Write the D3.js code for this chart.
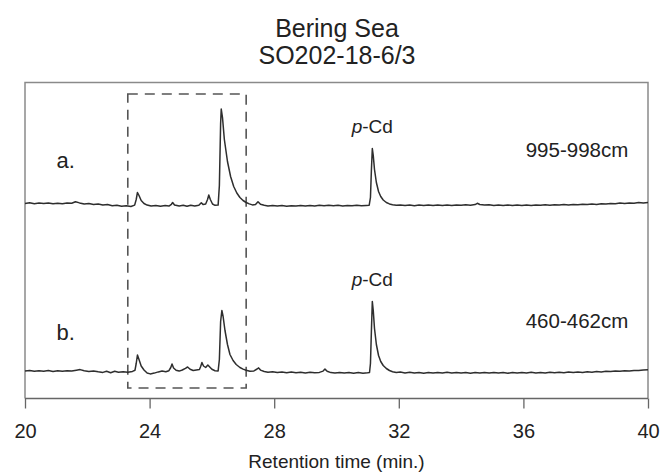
<!DOCTYPE html>
<html>
<head>
<meta charset="utf-8">
<script src="https://cdn.jsdelivr.net/npm/d3@7"></script>
<style>
  body { margin: 0; background: #fff; }
  svg { display: block; font-family: "Liberation Sans", Arial, sans-serif; }
</style>
</head>
<body>
<svg width="662" height="473"></svg>
<script>
// title lines
const titleLines = ["Bering Sea", "SO202-18-6/3"];

// x axis
const xDomain = [20, 40];
const majorTicks = [20, 24, 28, 32, 36, 40];
const minorTicks = [22, 26, 30, 34, 38];
const xLabel = "Retention time (min.)";

// samples (label, depth, baseline offset of the trace)
const sampleNames = ["a.", "b."];
const sampleDepths = ["995-998cm", "460-462cm"];
const sampleOffsets = [193, 27];

// p-Cd peak
const pCdTime = 31.15;
const pCdLabel = "p-Cd";

// dashed box around the 23.3 - 27.1 min window
const boxTimes = [23.3, 27.1];
const boxSignal = [10.5, 304.5];

// chromatogram a (995-998cm): [time, signal above baseline]
const traceA = [
  [20.0, 2.0], [20.15, 2.7], [20.3, 1.8], [20.45, 2.4], [20.6, 1.9], [20.75, 2.6],
  [20.9, 1.7], [21.05, 2.3], [21.2, 1.8], [21.35, 2.6], [21.5, 2.3], [21.62, 3.8],
  [21.75, 2.6], [21.9, 1.6], [22.05, 1.9], [22.2, 1.0], [22.35, 1.4], [22.5, 0.4],
  [22.65, 0.9], [22.8, -0.3], [22.95, 0.2], [23.1, -0.8], [23.25, -0.2], [23.4, -1.0],
  [23.52, 0.4], [23.57, 6], [23.61, 13], [23.66, 10], [23.73, 5], [23.82, 2],
  [23.92, 0.4], [24.05, -0.6], [24.2, 0.1], [24.35, -0.7], [24.5, -0.1], [24.62, -0.6],
  [24.7, 1.2], [24.74, 3], [24.8, 0.5], [24.95, -0.5], [25.08, 0.2], [25.2, -0.8],
  [25.32, 0.3], [25.45, -0.6], [25.58, 0.2], [25.66, 2.8], [25.72, 0.9], [25.8, 1.5],
  [25.86, 6], [25.9, 10.5], [25.95, 6], [26.02, 1.5], [26.1, 0.2], [26.2, 0.4],
  [26.24, 20], [26.28, 82], [26.3, 96.5], [26.34, 88], [26.4, 66], [26.5, 44],
  [26.6, 29], [26.7, 19], [26.8, 12.5], [26.9, 8], [27.0, 5], [27.1, 3],
  [27.2, 1.6], [27.3, 0.6], [27.4, 1.0], [27.48, 3.8], [27.56, 1.2], [27.68, 0.2],
  [27.8, -0.5], [27.95, 0.1], [28.1, -0.6], [28.25, -0.1], [28.4, -0.7], [28.55, -0.2],
  [28.7, -0.6], [28.85, 0.0], [29.0, -0.5], [29.15, 0.1], [29.3, -0.4], [29.45, 0.2],
  [29.6, -0.3], [29.75, 0.3], [29.9, -0.2], [30.05, 0.2], [30.2, -0.4], [30.35, 0.1],
  [30.5, -0.3], [30.65, 0.2], [30.8, -0.3], [30.95, 0.1], [31.05, 0.3], [31.09, 8],
  [31.12, 35], [31.15, 57], [31.18, 50], [31.22, 36], [31.28, 23], [31.35, 14],
  [31.42, 9], [31.5, 5.5], [31.6, 3], [31.7, 1.6], [31.8, 0.8], [31.92, 0.2],
  [32.05, 0.6], [32.2, -0.1], [32.35, 0.5], [32.5, -0.2], [32.65, 0.4], [32.8, -0.1],
  [32.95, 0.5], [33.1, 0.0], [33.25, 0.6], [33.4, 0.1], [33.55, 0.5], [33.7, -0.1],
  [33.85, 0.6], [34.0, 0.2], [34.15, 0.7], [34.3, 0.3], [34.45, 0.9], [34.52, 2.2],
  [34.6, 1.0], [34.75, 0.4], [34.9, 0.8], [35.05, 0.1], [35.2, 0.6], [35.35, 0.0],
  [35.5, 0.5], [35.65, -0.1], [35.8, 0.4], [35.95, 0.0], [36.1, 0.5], [36.25, 0.1],
  [36.4, 0.6], [36.55, 0.2], [36.7, 0.7], [36.85, 0.3], [37.0, 0.8], [37.15, 0.4],
  [37.3, 0.9], [37.45, 0.5], [37.6, 1.1], [37.75, 0.7], [37.9, 1.3], [38.05, 0.9],
  [38.2, 1.5], [38.35, 1.1], [38.5, 1.8], [38.65, 1.4], [38.8, 2.1], [38.95, 1.7],
  [39.1, 2.4], [39.25, 1.9], [39.4, 2.6], [39.55, 2.2], [39.7, 2.9], [39.85, 2.5],
  [40.0, 3.0]
];

// chromatogram b (460-462cm)
const traceB = [
  [20.0, 0.4], [20.15, 1.0], [20.3, 0.2], [20.45, 0.8], [20.6, 0.3], [20.75, 0.9],
  [20.9, 0.1], [21.05, 0.7], [21.2, 0.2], [21.35, 0.8], [21.5, 0.4], [21.65, 1.2],
  [21.77, 1.9], [21.9, 0.8], [22.05, 0.1], [22.2, 0.6], [22.35, -0.3], [22.5, -0.9],
  [22.62, 0.3], [22.75, -1.2], [22.88, 0.2], [23.0, -0.8], [23.15, -0.2], [23.3, -0.7],
  [23.45, 0.1], [23.53, 1.2], [23.57, 8], [23.61, 16.5], [23.66, 12], [23.73, 5.5],
  [23.82, 1.5], [23.92, -1.5], [24.02, -2.4], [24.15, -1.6], [24.28, -0.4], [24.4, 0.4],
  [24.52, -0.2], [24.62, 0.8], [24.68, 4], [24.72, 7.5], [24.77, 3.5], [24.85, 1.2],
  [24.95, 0.4], [25.05, 1.5], [25.15, 3.2], [25.22, 4.5], [25.3, 2.2], [25.4, 1.0],
  [25.5, 1.6], [25.6, 2.0], [25.64, 5], [25.68, 9], [25.73, 5.5], [25.8, 4],
  [25.87, 6.5], [25.93, 4.5], [26.0, 2.2], [26.1, 0.8], [26.2, 0.6], [26.24, 12],
  [26.28, 50], [26.32, 61], [26.36, 55], [26.42, 41], [26.5, 27], [26.58, 17],
  [26.68, 11], [26.78, 7], [26.9, 4], [27.0, 2.4], [27.1, 1.2], [27.22, 0.3],
  [27.35, 0.6], [27.45, 2.5], [27.5, 3.6], [27.56, 1.4], [27.68, 0.0], [27.8, -0.8],
  [27.95, -0.2], [28.1, -1.0], [28.25, -0.4], [28.4, -1.2], [28.55, -0.6], [28.7, -1.3],
  [28.85, -0.7], [29.0, -1.4], [29.15, -0.8], [29.3, -1.3], [29.45, -0.9], [29.57, 0.4],
  [29.63, 2.4], [29.7, 0.2], [29.82, -1.1], [29.95, -1.5], [30.1, -0.9], [30.25, -1.6],
  [30.4, -1.0], [30.55, -1.7], [30.7, -1.1], [30.85, -1.8], [31.0, -1.3], [31.06, -1.0],
  [31.09, 8], [31.12, 40], [31.15, 70], [31.18, 61], [31.22, 43], [31.28, 27],
  [31.35, 16], [31.42, 10], [31.5, 6], [31.6, 3], [31.7, 1.0], [31.8, -0.2],
  [31.92, -1.0], [32.05, -0.6], [32.2, -1.4], [32.35, -0.8], [32.5, -1.6], [32.65, -1.0],
  [32.8, -1.7], [32.95, -1.1], [33.1, -1.6], [33.25, -0.9], [33.4, -1.5], [33.55, -0.8],
  [33.7, -1.4], [33.85, -0.9], [34.0, -1.6], [34.15, -1.0], [34.3, -1.7], [34.45, -1.1],
  [34.6, -1.6], [34.75, -1.0], [34.9, -1.5], [35.05, -0.9], [35.2, -1.6], [35.35, -1.1],
  [35.5, -1.7], [35.65, -1.0], [35.8, -1.5], [35.95, -0.9], [36.1, -1.4], [36.25, -0.8],
  [36.4, -1.5], [36.55, -0.9], [36.7, -1.4], [36.85, -0.8], [37.0, -1.3], [37.15, -0.7],
  [37.3, -1.2], [37.45, -0.6], [37.6, -1.1], [37.75, -0.5], [37.9, -0.9], [38.05, -0.3],
  [38.2, -0.7], [38.35, -0.1], [38.5, -0.4], [38.65, 0.2], [38.8, -0.1], [38.95, 0.5],
  [39.1, 0.2], [39.25, 0.8], [39.4, 0.5], [39.55, 1.1], [39.7, 0.9], [39.85, 1.6],
  [40.0, 1.8]
];

const traces = [traceA, traceB];

var svg = d3.select("svg");

const plot = { left: 25, right: 648, top: 82.5, bottom: 398.5 };
const textColor = "#222";

const x = d3.scaleLinear().domain(xDomain).range([plot.left, plot.right]);
const y = d3.scaleLinear().domain([0, 316]).range([plot.bottom, plot.top]);

// title
svg.selectAll("text.title")
  .data(titleLines)
  .enter()
  .append("text")
  .attr("class", "title")
  .attr("x", 337)
  .attr("y", (d, i) => 36.5 + i * 27.5)
  .attr("text-anchor", "middle")
  .attr("fill", textColor)
  .style("font-size", "25px")
  .text((d) => d);

// frame (top, left, right)
svg.append("path")
  .attr("d", `M${plot.left},${plot.bottom} V${plot.top} H${plot.right} V${plot.bottom}`)
  .attr("fill", "none")
  .attr("stroke", "#8a8a8a")
  .attr("stroke-width", 1.5);

// dashed highlight box
svg.append("rect")
  .attr("x", x(boxTimes[0]))
  .attr("y", y(boxSignal[1]))
  .attr("width", x(boxTimes[1]) - x(boxTimes[0]))
  .attr("height", y(boxSignal[0]) - y(boxSignal[1]))
  .attr("fill", "none")
  .attr("stroke", "#555")
  .attr("stroke-width", 1.6)
  .attr("stroke-dasharray", "10,7");

// traces
const line = d3.line()
  .x((d) => x(d[0]))
  .y((d) => d[1]);

traces.forEach((trace, i) => {
  svg.append("path")
    .datum(trace.map((d) => [d[0], y(sampleOffsets[i] + d[1])]))
    .attr("class", "trace")
    .attr("d", line)
    .attr("fill", "none")
    .attr("stroke", "#2e2e2e")
    .attr("stroke-width", 1.5)
    .attr("stroke-linejoin", "round");
});

// sample labels
svg.selectAll("text.sampleName")
  .data(sampleNames)
  .enter()
  .append("text")
  .attr("class", "sampleName")
  .attr("x", 56.5)
  .attr("y", (d, i) => y(sampleOffsets[i]) - (i == 0 ? 37.5 : 31.5))
  .attr("fill", textColor)
  .style("font-size", "22px")
  .text((d) => d);

svg.selectAll("text.depth")
  .data(sampleDepths)
  .enter()
  .append("text")
  .attr("class", "depth")
  .attr("x", 577)
  .attr("y", (d, i) => y(sampleOffsets[i]) - (i == 0 ? 49 : 43.5))
  .attr("text-anchor", "middle")
  .attr("fill", textColor)
  .style("font-size", "20.5px")
  .text((d) => d);

// p-Cd labels above each peak
traces.forEach((trace, i) => {
  const peak = d3.max(trace.filter((d) => Math.abs(d[0] - pCdTime) < 0.2), (d) => d[1]);
  const t = svg.append("text")
    .attr("x", x(pCdTime))
    .attr("y", y(sampleOffsets[i] + peak) - 16)
    .attr("text-anchor", "middle")
    .attr("fill", textColor)
    .style("font-size", "19px");
  t.append("tspan").style("font-style", "italic").text(pCdLabel.split("-")[0]);
  t.append("tspan").text("-" + pCdLabel.split("-")[1]);
});

// x axis
const axisG = svg.append("g")
  .attr("transform", `translate(0,${plot.bottom})`);

axisG.call(
  d3.axisBottom(x)
    .tickValues(minorTicks)
    .tickSize(6)
    .tickFormat("")
);
axisG.call(
  d3.axisBottom(x)
    .tickValues(majorTicks)
    .tickSize(10)
    .tickPadding(15)
    .tickFormat(d3.format("d"))
);
axisG.selectAll(".domain").remove();
axisG.append("line")
  .attr("x1", plot.left)
  .attr("x2", plot.right)
  .attr("stroke", "#666")
  .attr("stroke-width", 1.5);
axisG.selectAll(".tick line").attr("stroke", "#666").attr("stroke-width", 1.3);
axisG.selectAll(".tick text")
  .attr("fill", textColor)
  .style("font-size", "20px")
  .style("font-family", "'Liberation Sans', Arial, sans-serif");

svg.append("text")
  .attr("x", (plot.left + plot.right) / 2)
  .attr("y", 468)
  .attr("text-anchor", "middle")
  .attr("fill", textColor)
  .style("font-size", "19px")
  .text(xLabel);
</script>
</body>
</html>
